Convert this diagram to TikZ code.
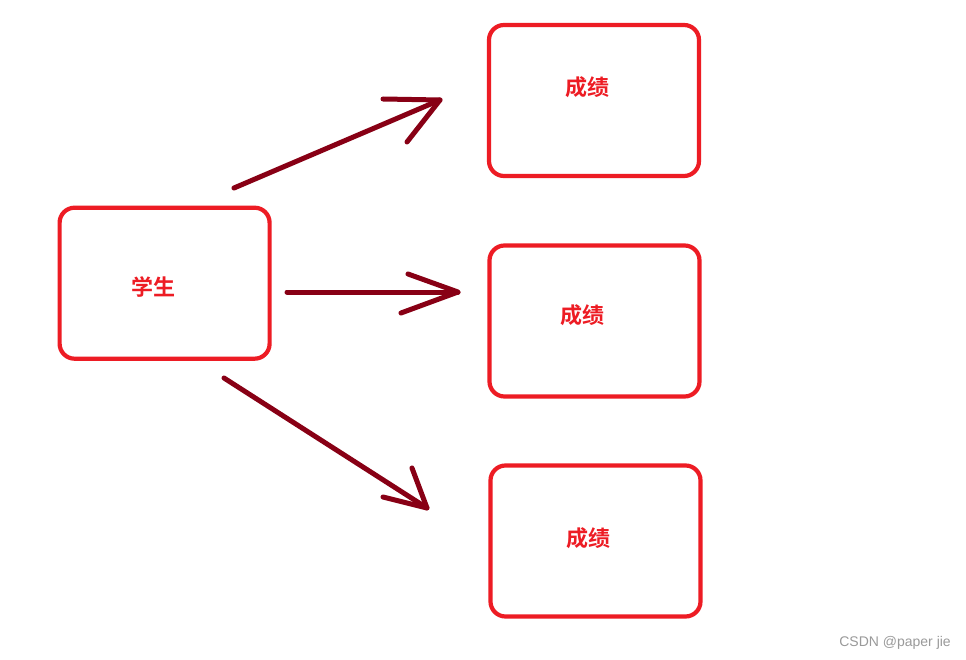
\documentclass[tikz,border=0pt]{standalone}
\usepackage{fontspec}
\newfontfamily\cjk{Noto Sans CJK SC}[BoldFont={Noto Sans CJK SC Bold}]
\setsansfont{Liberation Sans}
\definecolor{boxred}{HTML}{ED1C24}
\definecolor{arrowred}{HTML}{880015}
\definecolor{wmgray}{HTML}{9A9A9A}
\begin{document}
\begin{tikzpicture}[x=1pt,y=-1pt,
  box/.style={draw=boxred, line width=4.2pt, rounded corners=15pt, minimum width=210pt, minimum height=151pt, inner sep=0pt},
  lbl/.style={text=boxred, font=\cjk\bfseries\fontsize{22}{24}\selectfont, inner sep=0pt},
  arr/.style={draw=arrowred, line width=5pt, line cap=round, line join=round}]
\useasboundingbox (0,0) rectangle (966,660);
\fill[white] (0,0) rectangle (966,660);
% boxes
\node[box] (stu) at (164.6,283.2) {};
\node[box] (g1) at (594,100.5) {};
\node[box] (g2) at (594.5,321) {};
\node[box] (g3) at (595.5,541) {};
% labels
\node[lbl] (tstu) at (153,287) {学生};
\node[lbl] (tg1) at (587,87) {成绩};
\node[lbl] (tg2) at (582,315) {成绩};
\node[lbl] (tg3) at (588,538) {成绩};
% arrow 1
\coordinate (a1s) at (234,188);
\coordinate (a1t) at (440,100);
\coordinate (a1h1) at (383,99);
\coordinate (a1h2) at (407,142);
\draw[arr] (a1s) -- (a1t);
\draw[arr] (a1h1) -- (a1t) -- (a1h2);
% arrow 2
\coordinate (a2s) at (287,292);
\coordinate (a2t) at (458,292);
\coordinate (a2h1) at (408,274);
\coordinate (a2h2) at (401,313);
\draw[arr] (a2s) -- (a2t);
\draw[arr] (a2h1) -- (a2t) -- (a2h2);
% arrow 3
\coordinate (a3s) at (224,378);
\coordinate (a3t) at (427,508);
\coordinate (a3h1) at (412,468);
\coordinate (a3h2) at (383,497);
\draw[arr] (a3s) -- (a3t);
\draw[arr] (a3h1) -- (a3t) -- (a3h2);
% watermark
\node[text=wmgray, font=\sffamily\fontsize{14}{16}\selectfont, inner sep=0pt, anchor=east] (wm) at (951,643) {CSDN @paper jie};
\end{tikzpicture}
\end{document}
